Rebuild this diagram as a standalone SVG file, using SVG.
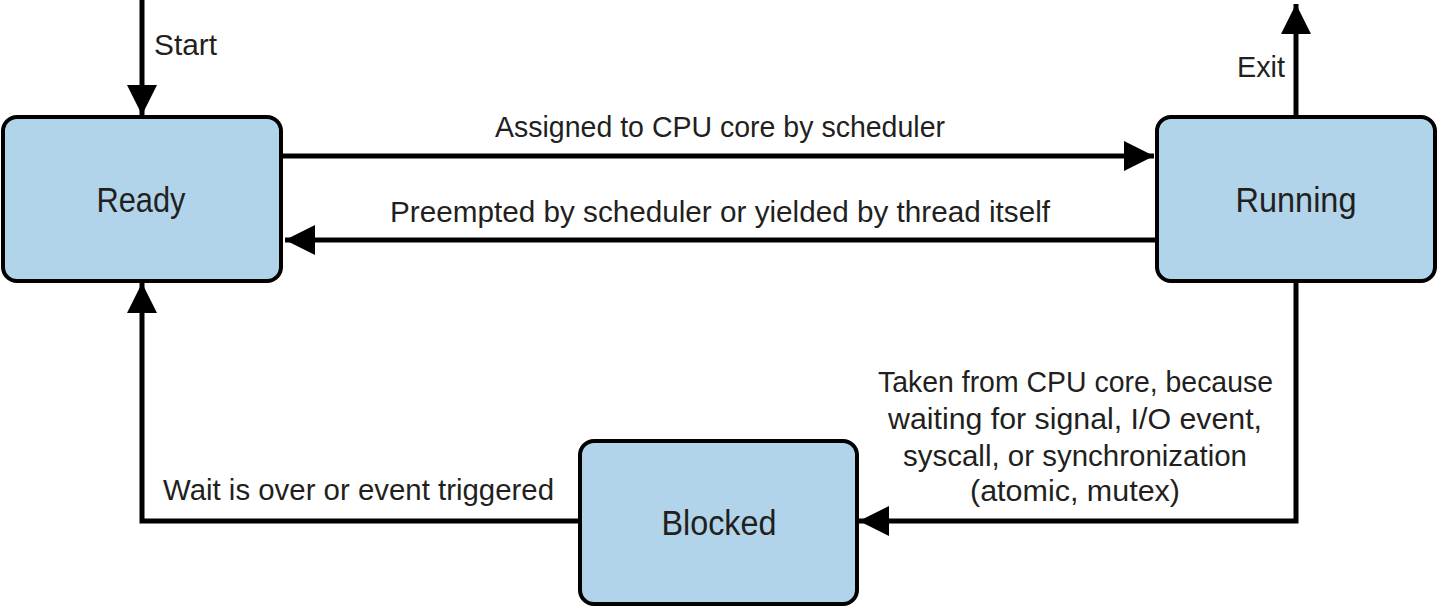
<svg xmlns="http://www.w3.org/2000/svg" width="1438" height="608" viewBox="0 0 1438 608">
<style>
.box{fill:#b1d4ea;stroke:#000;stroke-width:4}
.lbl{font-family:"Liberation Sans","Noto Sans",sans-serif;fill:#231f20;font-size:30px}
.nm{font-family:"Liberation Sans","Noto Sans",sans-serif;fill:#231f20;font-size:35px;text-anchor:middle}
.ln{fill:none;stroke:#000;stroke-width:5}
</style>
<defs>
<marker id="ah" viewBox="0 0 10 10" refX="10" refY="5" markerWidth="6" markerHeight="6" markerUnits="strokeWidth" orient="auto">
<path d="M0,0 L10,5 L0,10 z" fill="#000"/>
</marker>
</defs>
<rect width="1438" height="608" fill="#fff"/>
<g id="connectors">
<line class="ln" x1="142" y1="0" x2="142" y2="115" marker-end="url(#ah)"/>
<line class="ln" x1="1296" y1="117" x2="1296" y2="4" marker-end="url(#ah)"/>
<line class="ln" x1="283" y1="156" x2="1154" y2="156" marker-end="url(#ah)"/>
<line class="ln" x1="1156" y1="240" x2="285" y2="240" marker-end="url(#ah)"/>
<polyline class="ln" points="1296,281 1296,521 859,521" marker-end="url(#ah)"/>
<polyline class="ln" points="579,521 142,521 142,283" marker-end="url(#ah)"/>
<text class="lbl" x="154" y="55" textLength="63" lengthAdjust="spacingAndGlyphs">Start</text>
<text class="lbl" x="1237" y="77" textLength="48" lengthAdjust="spacingAndGlyphs">Exit</text>
<text class="lbl" x="495" y="137" textLength="450" lengthAdjust="spacingAndGlyphs">Assigned to CPU core by scheduler</text>
<text class="lbl" x="390" y="222" textLength="660" lengthAdjust="spacingAndGlyphs">Preempted by scheduler or yielded by thread itself</text>
<text class="lbl" x="163" y="500" textLength="391" lengthAdjust="spacingAndGlyphs">Wait is over or event triggered</text>
<text class="lbl" x="878" y="392" textLength="395" lengthAdjust="spacingAndGlyphs">Taken from CPU core, because</text>
<text class="lbl" x="888" y="429" textLength="374" lengthAdjust="spacingAndGlyphs">waiting for signal, I/O event,</text>
<text class="lbl" x="903" y="466" textLength="344" lengthAdjust="spacingAndGlyphs">syscall, or synchronization</text>
<text class="lbl" x="970" y="501" textLength="210" lengthAdjust="spacingAndGlyphs">(atomic, mutex)</text>
</g>
<g id="ready">
<rect class="box" x="3" y="117" width="278" height="164" rx="14"/>
<text class="nm" x="141" y="212" textLength="89" lengthAdjust="spacingAndGlyphs">Ready</text>
</g>
<g id="running">
<rect class="box" x="1157" y="117" width="278" height="164" rx="14"/>
<text class="nm" x="1296" y="212" textLength="121" lengthAdjust="spacingAndGlyphs">Running</text>
</g>
<g id="blocked">
<rect class="box" x="580" y="441" width="277" height="163" rx="14"/>
<text class="nm" x="719" y="535" textLength="115" lengthAdjust="spacingAndGlyphs">Blocked</text>
</g>
</svg>
